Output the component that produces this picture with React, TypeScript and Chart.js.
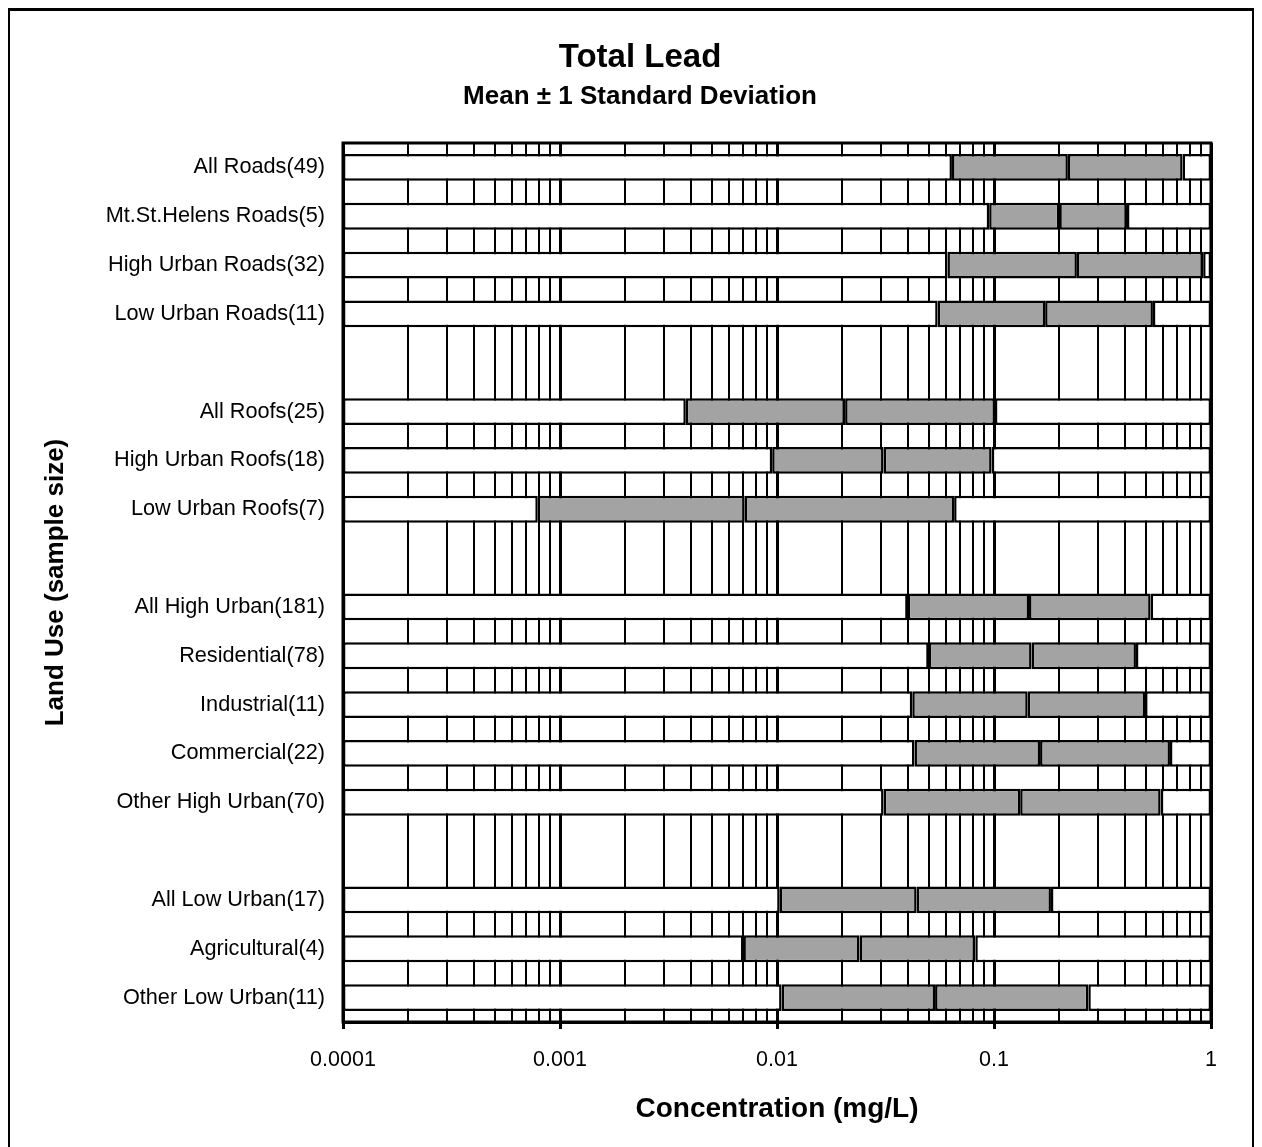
import { useEffect, useRef } from 'react';
import { Chart, registerables } from 'chart.js';

Chart.register(...registerables);

// Land-use categories (blank entries separate the groups)
const categories = [
  'All Roads(49)',
  'Mt.St.Helens Roads(5)',
  'High Urban Roads(32)',
  'Low Urban Roads(11)',
  '',
  'All Roofs(25)',
  'High Urban Roofs(18)',
  'Low Urban Roofs(7)',
  '',
  'All High Urban(181)',
  'Residential(78)',
  'Industrial(11)',
  'Commercial(22)',
  'Other High Urban(70)',
  '',
  'All Low Urban(17)',
  'Agricultural(4)',
  'Other Low Urban(11)',
];

// Total lead, mg/L: mean - 1 SD, mean, mean + 1 SD
const lowValues = [0.064, 0.095, 0.061, 0.055, null, 0.0038, 0.0095, 0.00079, null, 0.040, 0.050, 0.042, 0.043, 0.031, null, 0.0103, 0.0070, 0.0105];
const meanValues = [0.219, 0.200, 0.241, 0.172, null, 0.0206, 0.031, 0.0071, null, 0.145, 0.149, 0.143, 0.163, 0.132, null, 0.044, 0.024, 0.0535];
const highValues = [0.74, 0.41, 0.92, 0.54, null, 0.101, 0.0975, 0.0655, null, 0.527, 0.451, 0.497, 0.647, 0.586, null, 0.183, 0.082, 0.272];

const axisMin = 0.0001;
const axisMax = 1;
const decadeValues = [0.0001, 0.001, 0.01, 0.1, 1];
const xTickLabels = ['0.0001', '0.001', '0.01', '0.1', '1'];
const minorMultiples = [2, 3, 4, 5, 6, 7, 8, 9];

const gridValues = decadeValues.flatMap((d, i) =>
  i === decadeValues.length - 1
    ? [d]
    : [d, ...minorMultiples.map((m) => Number((m * d).toPrecision(6)))]
);

const isDecade = (v: any) => {
  if (typeof v !== 'number' || !(v > 0)) return false;
  const l = Math.log10(v);
  return Math.abs(l - Math.round(l)) < 1e-6;
};

const GRAY = '#a3a3a3';

const pair = (a: (number | null)[], b: (number | null)[]) =>
  a.map((v, i) => (v == null || b[i] == null ? null : [v as number, b[i] as number]));

const leftWhite = pair(lowValues.map((v) => (v == null ? null : axisMin)), lowValues);
const lowerBand = pair(lowValues, meanValues);
const upperBand = pair(meanValues, highValues);
const rightWhite = pair(highValues, highValues.map((v) => (v == null ? null : axisMax)));

const plotFrame = {
  id: 'plotFrame',
  afterDatasetsDraw(chart: any) {
    const { ctx, chartArea } = chart;
    ctx.save();
    ctx.strokeStyle = '#000';
    ctx.lineWidth = 3;
    ctx.strokeRect(chartArea.left, chartArea.top, chartArea.right - chartArea.left, chartArea.bottom - chartArea.top);
    ctx.restore();
  },
};

export default function App() {
  const canvasRef = useRef<HTMLCanvasElement | null>(null);

  useEffect(() => {
    if (!canvasRef.current) return;
    Chart.defaults.font.family = "'Liberation Sans', Arial, Helvetica, sans-serif";
    Chart.defaults.color = '#000';

    const barStyle = {
      borderColor: '#000',
      borderWidth: 2.5,
      borderSkipped: false,
      grouped: false,
      barPercentage: 0.55,
      categoryPercentage: 1,
    };

    const chart = new Chart(canvasRef.current, {
      type: 'bar',
      data: {
        labels: categories,
        datasets: [
          { label: 'below', data: leftWhite, backgroundColor: '#ffffff', ...barStyle },
          { label: 'mean - SD', data: lowerBand, backgroundColor: GRAY, ...barStyle },
          { label: 'mean + SD', data: upperBand, backgroundColor: GRAY, ...barStyle },
          { label: 'above', data: rightWhite, backgroundColor: '#ffffff', ...barStyle },
        ] as any,
      },
      options: {
        indexAxis: 'y',
        responsive: false,
        animation: false,
        layout: { padding: { left: 59, right: 41, top: 0, bottom: 0 } },
        plugins: {
          legend: { display: false },
          tooltip: { enabled: false },
          title: {
            display: true,
            text: 'Total Lead',
            color: '#000',
            font: { size: 33, weight: 'bold' },
            padding: { top: 27, bottom: 4 },
          },
          subtitle: {
            display: true,
            text: 'Mean ± 1 Standard Deviation',
            color: '#000',
            font: { size: 26, weight: 'bold' },
            padding: { top: 0, bottom: 30.2 },
          },
        },
        scales: {
          x: {
            type: 'logarithmic',
            position: 'bottom',
            min: axisMin,
            max: axisMax,
            afterBuildTicks: (scale: any) => {
              scale.ticks = gridValues.map((v) => ({ value: v }));
            },
            afterFit: (scale: any) => {
              scale.height = 125;
            },
            ticks: {
              autoSkip: false,
              maxRotation: 0,
              padding: 18.4,
              color: '#000',
              font: { size: 21.5 },
              callback: (value: any) => {
                const v = Number(value);
                const i = decadeValues.findIndex((d) => Math.abs(d - v) < d * 1e-6);
                return i >= 0 ? xTickLabels[i] : '';
              },
            },
            grid: {
              color: '#000',
              lineWidth: (c: any) => (isDecade(c.tick?.value) ? 3 : 2),
              tickLength: 7,
              tickColor: (c: any) => (isDecade(c.tick?.value) ? '#000' : 'rgba(0,0,0,0)'),
            },
            border: { display: true, color: '#000', width: 3 },
            title: {
              display: true,
              text: 'Concentration (mg/L)',
              color: '#000',
              font: { size: 28, weight: 'bold' },
              padding: { top: 0, bottom: 21.2 },
            },
          },
          y: {
            type: 'category',
            afterFit: (scale: any) => {
              scale.width = 274;
            },
            grid: { display: false, drawTicks: false },
            border: { display: true, color: '#000', width: 3 },
            ticks: { autoSkip: false, padding: 18, color: '#000', font: { size: 21.7 } },
            title: {
              display: true,
              text: 'Land Use (sample size)',
              color: '#000',
              font: { size: 26, weight: 'bold' },
              padding: { top: -28.6, bottom: 0 },
            },
          },
        },
      } as any,
      plugins: [plotFrame],
    });

    return () => chart.destroy();
  }, []);

  return (
    <div
      style={{
        position: 'relative',
        width: 1246,
        height: 1139,
        boxSizing: 'border-box',
        borderTop: '3px solid #000',
        borderLeft: '2px solid #000',
        borderRight: '2px solid #000',
        background: '#fff',
      }}
    >
      <canvas ref={canvasRef} width={1242} height={1136} style={{ display: 'block' }} />
    </div>
  );
}
